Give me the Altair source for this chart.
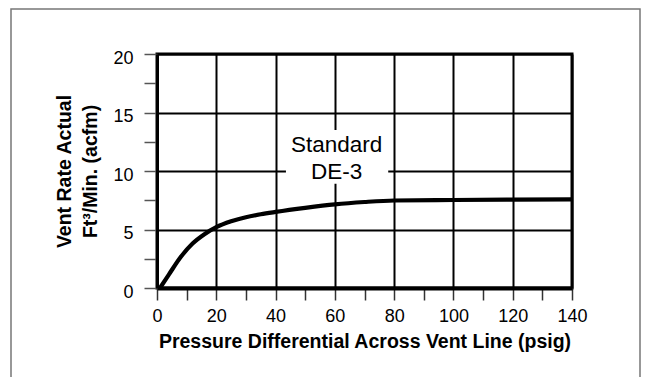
import altair as alt
import pandas as pd

# ---- data ----
pressure = [1, 4, 8, 12, 16, 20, 25, 30, 35, 40, 50, 60, 70, 80, 100, 120, 140]
vent_rate = [0, 1.15, 2.65, 3.8, 4.6, 5.2, 5.7, 6.05, 6.3, 6.5, 6.85, 7.15, 7.35, 7.48, 7.52, 7.55, 7.57]

x_ticks = list(range(0, 141, 10))
y_ticks = [0, 2.5, 5, 7.5, 10, 12.5, 15, 17.5, 20]

label_lines = ["Standard", "DE-3"]
label_x = [60.6, 60.6]
label_y = [12.26, 9.9]

box_x0 = [43.5]
box_x1 = [78.0]
box_y0 = [8.9]
box_y1 = [13.5]

x_title = "Pressure Differential Across Vent Line (psig)"
y_title = ["Vent Rate Actual", "Ft³/Min. (acfm)"]

FONT = "Liberation Sans"

curve_df = pd.DataFrame({"x": pressure, "y": vent_rate})
label_df = pd.DataFrame({"x": label_x, "y": label_y, "t": label_lines})
box_df = pd.DataFrame({"x": box_x0, "x2": box_x1, "y": box_y0, "y2": box_y1})

xs = alt.Scale(domain=[0, 140], nice=False, zero=False)
ys = alt.Scale(domain=[0, 20], nice=False, zero=False)

x_axis = alt.Axis(
    values=x_ticks, title=x_title,
    labelExpr="datum.value % 20 === 0 ? datum.label : ''",
    grid=True,
    gridOpacity={"condition": {"test": "datum.value % 20 === 0", "value": 1}, "value": 0},
    gridColor="black", gridWidth=2,
    domainColor="black", domainWidth=4,
    tickColor="#333", tickWidth=1.5, tickSize=12,
    labelPadding=7.5, labelFontSize=18, labelFont=FONT, labelColor="black",
    labelFlush=False, labelOverlap=False,
    titleFont=FONT, titleFontSize=19.5, titleFontWeight="bold", titleColor="black",
    titleY=44,
)

y_axis = alt.Axis(
    values=y_ticks, title=y_title,
    labelExpr="datum.value % 5 === 0 ? datum.label : ''",
    grid=True,
    gridOpacity={"condition": {"test": "datum.value % 5 === 0", "value": 1}, "value": 0},
    gridColor="black", gridWidth=2,
    domainColor="black", domainWidth=3,
    tickColor="#555", tickWidth=1.5, tickSize=13,
    labelPadding=11, labelOffset=4, labelFontSize=18, labelFont=FONT, labelColor="black",
    labelBaseline="middle", labelFlush=False, labelOverlap=False,
    titleFont=FONT, titleFontSize=19.5, titleFontWeight="bold", titleColor="black",
    titleAngle=270, titleBaseline="middle", titleLineHeight=26,
    titleX=-93, titleY=117,
)

frame = alt.Chart(pd.DataFrame({"a": [0]})).mark_rect(
    filled=False, stroke="#777", strokeWidth=1.5
).encode(
    x=alt.value(-146), x2=alt.value(483), y=alt.value(-45), y2=alt.value(340)
)

box = alt.Chart(box_df).mark_rect(color="white").encode(
    x=alt.X("x:Q", scale=xs, axis=x_axis),
    x2="x2:Q",
    y=alt.Y("y:Q", scale=ys, axis=y_axis),
    y2="y2:Q",
)

line = alt.Chart(curve_df).mark_line(
    color="black", strokeWidth=4.2, interpolate="monotone"
).encode(
    x=alt.X("x:Q", scale=xs, axis=x_axis),
    y=alt.Y("y:Q", scale=ys, axis=y_axis),
)

text = alt.Chart(label_df).mark_text(
    font=FONT, fontSize=22.5, color="black", align="center", baseline="middle"
).encode(
    x=alt.X("x:Q", scale=xs, axis=x_axis),
    y=alt.Y("y:Q", scale=ys, axis=y_axis),
    text="t:N",
)

chart = alt.layer(frame, box, line, text).properties(
    width=415, height=234,
    autosize=alt.AutoSizeParams(type="none"),
    padding={"left": 149, "top": 46, "right": 69, "bottom": 89},
    background="white",
).configure_view(stroke="black", strokeWidth=3)

chart.save("out.html", embed_options={"renderer": "svg", "actions": False})
